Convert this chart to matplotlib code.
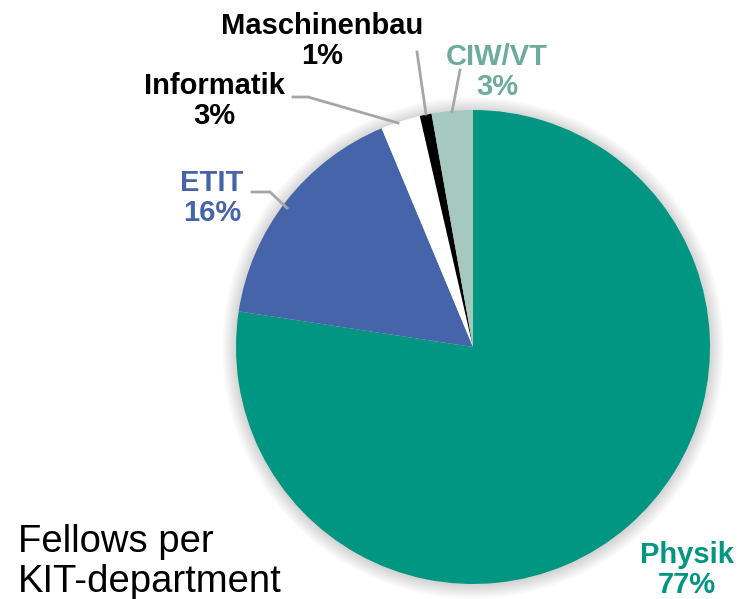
import matplotlib
matplotlib.use("Agg")
import matplotlib.pyplot as plt
from matplotlib.patches import Circle

departments = ["Physik", "ETIT", "Informatik", "Maschinenbau", "CIW/VT"]
shares = [77.4, 16.3, 2.7, 0.8, 2.8]
slice_colors = ["#009682", "#4664AA", "#FFFFFF", "#000000", "#A6C9BF"]
label_colors = ["#009682", "#4664AA", "#000000", "#000000", "#6DAB9A"]

plt.rcParams['font.family'] = ['Liberation Sans', 'DejaVu Sans']

fig = plt.figure(figsize=(7.40, 5.99), dpi=100)
ax = fig.add_axes([0, 0, 1, 1])

cx, cy, r = 473, 347, 237

# soft shadow
for i in range(14):
    ax.add_patch(Circle((cx, cy + 1), r + 14 - i, facecolor='#000000',
                        edgecolor='none', alpha=0.012, zorder=0))

# y axis is inverted below: start at data angle -90 (screen top),
# counterclockwise in data space appears clockwise on screen
wedges, _ = ax.pie(shares, colors=slice_colors, startangle=-90, counterclock=True,
                   center=(cx, cy), radius=r, frame=True,
                   wedgeprops=dict(linewidth=0, zorder=2))
ax.set_xlim(0, 740)
ax.set_ylim(599, 0)
ax.set_aspect('equal')
ax.axis('off')

# labels
label_pos = {
    "Physik": (687, 570),
    "ETIT": (212, 198),
    "Informatik": (214, 101),
    "Maschinenbau": (322, 41),
    "CIW/VT": (497, 72),
}
for name, val, col in zip(departments, shares, label_colors):
    x, y = label_pos[name]
    ax.text(x, y, f"{name}\n{round(val)}%", ha='center', va='center', fontsize=21,
            fontweight='bold', color=col, linespacing=1.05, zorder=5)

# leader lines
lc = '#A6A6A6'
ax.plot([252, 270, 287], [192, 192, 208], color=lc, lw=2, zorder=3)
ax.plot([293, 308, 398], [97, 97, 123], color=lc, lw=2, zorder=3)
ax.plot([417, 426], [52, 114], color=lc, lw=2, zorder=3)
ax.plot([460, 452], [70, 112], color=lc, lw=2, zorder=3)

ax.text(18, 592, "Fellows per\nKIT-department", ha='left', va='baseline',
        fontsize=27.5, color='black', linespacing=1.15)

fig.savefig("out.png", dpi=100)
